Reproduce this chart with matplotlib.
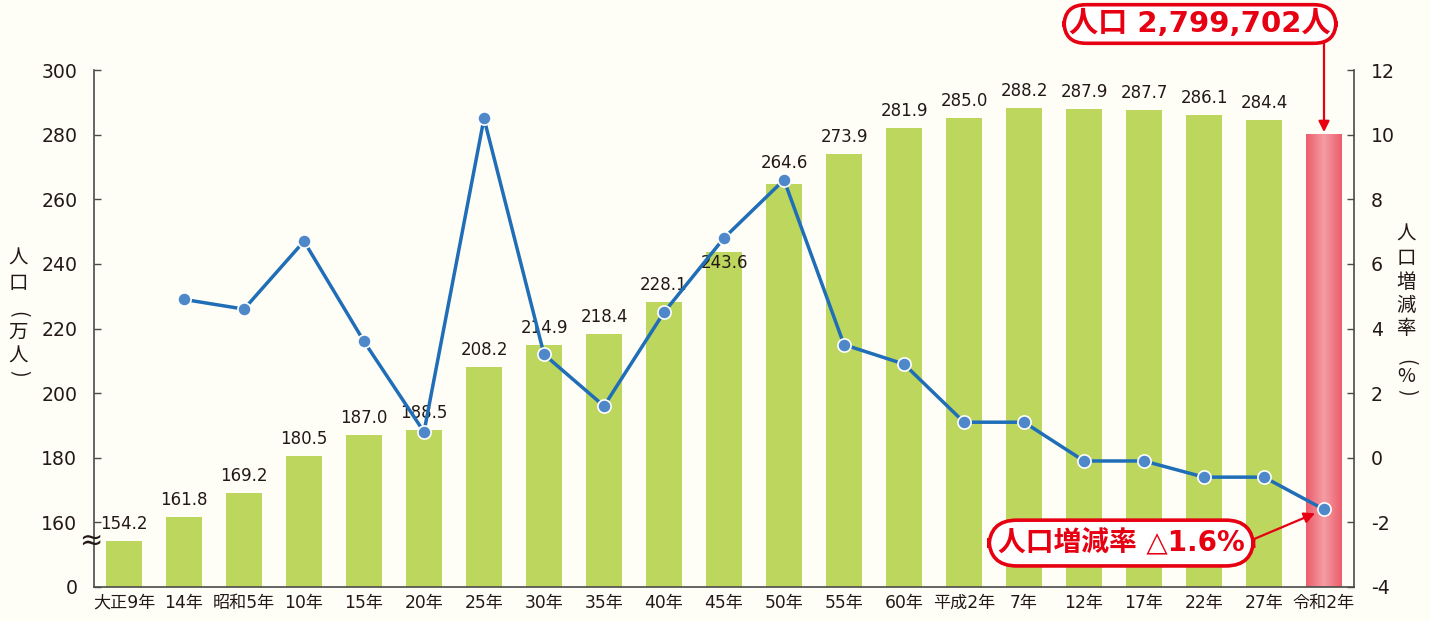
import numpy as np
import matplotlib
matplotlib.use("Agg")
import matplotlib.pyplot as plt

plt.rcParams['font.family'] = ['DejaVu Sans', 'Noto Sans CJK JP']
plt.rcParams['axes.unicode_minus'] = False

categories = ["大正9年", "14年", "昭和5年", "10年", "15年", "20年", "25年", "30年", "35年",
              "40年", "45年", "50年", "55年", "60年", "平成2年", "7年", "12年", "17年",
              "22年", "27年", "令和2年"]
population = [154.2, 161.8, 169.2, 180.5, 187.0, 188.5, 208.2, 214.9, 218.4, 228.1,
              243.6, 264.6, 273.9, 281.9, 285.0, 288.2, 287.9, 287.7, 286.1, 284.4, 279.9702]
rate = [np.nan, 4.9, 4.6, 6.7, 3.6, 0.8, 10.5, 3.2, 1.6, 4.5, 6.8, 8.6, 3.5, 2.9,
        1.1, 1.1, -0.1, -0.1, -0.6, -0.6, -1.6]
left_ticks = [140, 160, 180, 200, 220, 240, 260, 280, 300]
left_ticklabels = ["0", "160", "180", "200", "220", "240", "260", "280", "300"]
right_ticks = [-4, -2, 0, 2, 4, 6, 8, 10, 12]

BG = "#FEFEF6"
GREEN = "#BCD65E"
RED = "#E60012"
LINE = "#1F6EB7"
MARK = "#4F88C9"
TXT = "#231815"
SPINE = "#4A4A4A"

W, H = 1430, 621
fig = plt.figure(figsize=(W / 100, H / 100), dpi=100, facecolor=BG)
ax = fig.add_axes([94 / W, 34 / H, 1260 / W, 517 / H])
ax.set_facecolor(BG)

x = np.arange(len(categories))
base = 140
n = len(categories)
green_h = [p - base for p in population[:-1]]
ax.bar(x[:-1], green_h, bottom=base, width=0.59, color=GREEN, zorder=2)

# red gradient bar for the last year
bw = 0.6
grad = np.abs(np.linspace(-1, 1, 64))
c_edge = np.array(matplotlib.colors.to_rgb("#EC5E6B"))
c_mid = np.array(matplotlib.colors.to_rgb("#F59CA4"))
img = (c_mid[None, :] * (1 - grad[:, None]) + c_edge[None, :] * grad[:, None])[None, :, :]
ax.imshow(img, extent=(x[-1] - bw / 2, x[-1] + bw / 2, base, population[-1]),
          aspect='auto', zorder=2, interpolation='bilinear')

ax.set_xlim(-0.5, n - 0.5)
ax.set_ylim(140, 300)
ax.set_yticks(left_ticks)
ax.set_yticklabels(left_ticklabels)
ax.set_xticks(x)
ax.set_xticklabels(categories, fontsize=12.3, color=TXT)
ax.tick_params(axis='x', length=0, pad=5)
ax.tick_params(axis='y', direction='in', length=5, width=1, color=SPINE,
               labelsize=13.6, labelcolor=TXT, pad=12)
for s in ['top', 'right']:
    ax.spines[s].set_visible(False)
for s in ['left', 'bottom']:
    ax.spines[s].set_color(SPINE)
    ax.spines[s].set_linewidth(1.2)

# data labels
label_off = {10: -11, 11: 21}
for i, p in enumerate(population[:-1]):
    off = label_off.get(i, 17)
    ax.annotate(f"{p:.1f}", xy=(i, p), xytext=(0, off * 0.72), textcoords='offset points',
                ha='center', va='center', fontsize=12, color=TXT, zorder=3)

ax2 = ax.twinx()
ax2.set_ylim(-4, 12)
ax2.set_yticks(right_ticks)
ax2.tick_params(axis='y', direction='in', length=5, width=1, color=SPINE,
                labelsize=13.6, labelcolor=TXT, pad=12)
for s in ['top', 'left', 'bottom']:
    ax2.spines[s].set_visible(False)
ax2.spines['right'].set_color(SPINE)
ax2.spines['right'].set_linewidth(1.2)
ax2.plot(x, rate, color=LINE, lw=2.5, marker='o', markersize=9.5,
         markerfacecolor=MARK, markeredgecolor='white', markeredgewidth=1.2, zorder=4)

# break mark
fig.text(91 / W, 1 - 541 / H, "≈", fontsize=20, color=TXT, ha='center', va='center')

# vertical axis titles
def vertical(chars, xpx, ys, size=14):
    for ch, ypx in zip(chars, ys):
        rot = -90 if ch in "()" else 0
        fig.text(xpx / W, 1 - ypx / H, ch, fontsize=size, color=TXT, ha='center', va='center',
                 rotation=rot, rotation_mode='anchor', family=['Noto Sans CJK JP'])

vertical("人口(万人)", 18, [258, 284, 314, 332, 356, 373])
vertical("人口増減率(%)", 1406, [234, 258, 282, 305, 329, 362, 377, 392])

# top callout
box = dict(boxstyle="round,pad=0.18,rounding_size=0.75", fc='white', ec=RED, lw=2.6)
fig.text(1200 / W, 1 - 24 / H, "人口 2,799,702人", fontsize=21, fontweight='bold',
         color=RED, ha='center', va='center', bbox=box)
ax.annotate('', xy=(x[-1], population[-1] + 0.8), xytext=(x[-1], 308.7),
            arrowprops=dict(arrowstyle='-|>', color=RED, lw=1.6, mutation_scale=16,
                            shrinkA=0, shrinkB=0), annotation_clip=False, zorder=6)

# bottom callout
ax2.annotate("人口増減率 △1.6%", xy=(x[-1], rate[-1]), xytext=(16.62, -2.64),
             fontsize=20, fontweight='bold', color=RED, ha='center', va='center',
             bbox=dict(boxstyle="round,pad=0.32,rounding_size=1.0", fc='white', ec=RED, lw=2.6),
             arrowprops=dict(arrowstyle='-|>', color=RED, lw=1.6, mutation_scale=16,
                             shrinkA=0, shrinkB=7, relpos=(1.0, 0.5)),
             zorder=6)

fig.savefig("out.png", dpi=100, facecolor=BG)
